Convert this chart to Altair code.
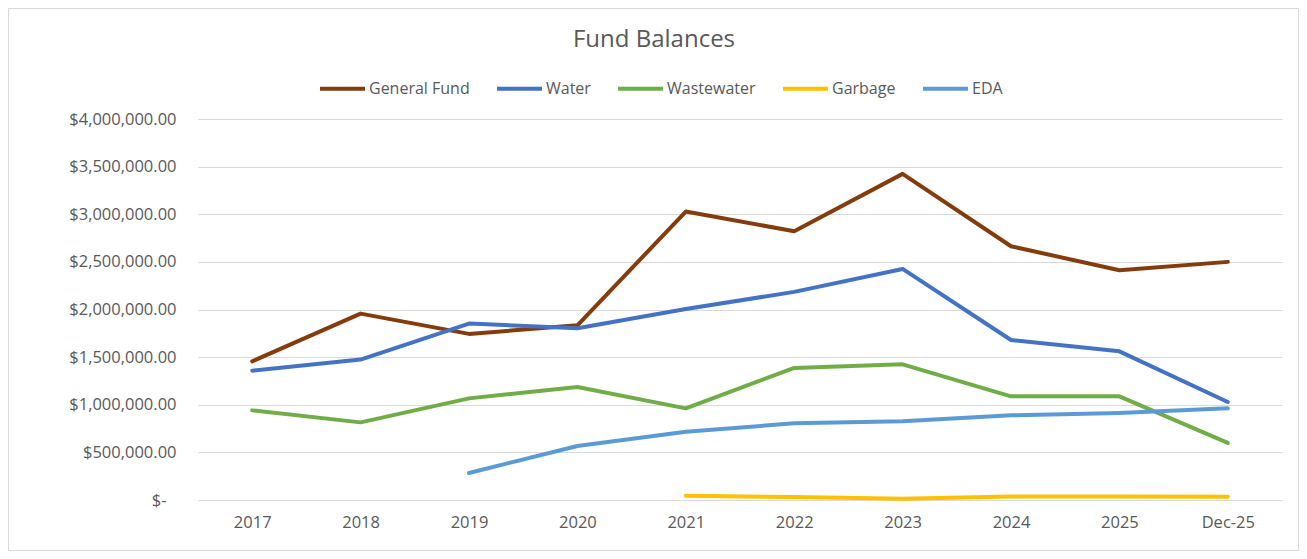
import altair as alt
import pandas as pd

periods = ["2017", "2018", "2019", "2020", "2021", "2022", "2023", "2024", "2025", "Dec-25"]
series_names = ["General Fund", "Water", "Wastewater", "Garbage", "EDA"]
series_colors = ["#843C0C", "#4472C4", "#70AD47", "#FFC000", "#5B9BD5"]

general_fund = [1456000, 1957000, 1744000, 1834000, 3028000, 2822000, 3424000, 2664000, 2412000, 2500000]
water = [1358000, 1474000, 1852000, 1803000, 2006000, 2185000, 2426000, 1680000, 1561000, 1029000]
wastewater = [941000, 815000, 1067000, 1187000, 962000, 1386000, 1424000, 1088000, 1088000, 599000]
garbage = [None, None, None, None, 45000, 31000, 14000, 38000, 38000, 35000]
eda = [None, None, 284000, 567000, 717000, 805000, 826000, 889000, 914000, 962000]

all_values = [general_fund, water, wastewater, garbage, eda]
rows = []
for name, vals in zip(series_names, all_values):
    for p, v in zip(periods, vals):
        if v is not None:
            rows.append({"series": name, "period": p, "value": v})
df = pd.DataFrame(rows)

W, H = 1084, 381
PAD_L, PAD_T, PAD_R, PAD_B = 190, 111, 17, 51
FONT = "Open Sans"
TXT = "#595959"

lines = alt.Chart(df).mark_line(strokeWidth=4, strokeCap="round", strokeJoin="round").encode(
    x=alt.X("period:N", sort=periods, title=None,
            scale=alt.Scale(type="point", padding=0.5),
            axis=alt.Axis(labelAngle=0, domain=False, ticks=False, grid=False,
                          labelFont=FONT, labelFontSize=16.5, labelColor=TXT, labelPadding=14)),
    y=alt.Y("value:Q", title=None,
            scale=alt.Scale(domain=[0, 4000000], nice=False),
            axis=alt.Axis(values=[0, 500000, 1000000, 1500000, 2000000, 2500000, 3000000, 3500000, 4000000],
                          domain=False, ticks=False, grid=True, gridColor="#d9d9d9", gridWidth=1,
                          labelFont=FONT, labelFontSize=16.5, labelColor=TXT,
                          labelPadding={"condition": {"test": "datum.value == 0", "value": 32}, "value": 22},
                          labelExpr="datum.value == 0 ? '$-' : '$' + format(datum.value, ',.2f')")),
    color=alt.Color("series:N", sort=series_names,
                    scale=alt.Scale(domain=series_names, range=series_colors),
                    legend=alt.Legend(title=None, orient="none", direction="horizontal",
                                      legendX=120, legendY=-55,
                                      symbolType="stroke", symbolSize=2025, symbolStrokeWidth=4,
                                      labelFont=FONT, labelFontSize=16, labelColor=TXT,
                                      labelOffset=2, columnPadding=19, columns=5)),
    detail="series:N",
)

border = alt.Chart(alt.Data(values=[{}])).mark_rect(fillOpacity=0, stroke="#d9d9d9", strokeWidth=1).encode(
    x=alt.value(-PAD_L + 0.5), x2=alt.value(W + PAD_R - 0.5),
    y=alt.value(-PAD_T + 0.5), y2=alt.value(H + PAD_B - 0.5),
)

chart = alt.layer(border, lines).properties(
    width=W, height=H,
    background="white",
    title=alt.TitleParams("Fund Balances", font=FONT, fontSize=24, fontWeight="normal",
                          color=TXT, anchor="middle", dx=-86, offset=-44),
    autosize=alt.AutoSizeParams(type="none"),
    padding={"left": PAD_L, "top": PAD_T, "right": PAD_R, "bottom": PAD_B},
).configure_view(strokeWidth=0, stroke="transparent")

chart.save("out.html", embed_options={"renderer": "svg", "actions": False})
